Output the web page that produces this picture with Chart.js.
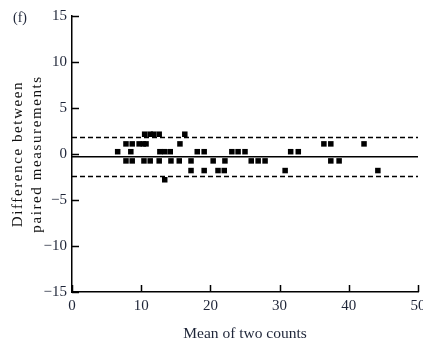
<!DOCTYPE html>
<html>
<head>
<meta charset="utf-8">
<script src="https://cdn.jsdelivr.net/npm/chart.js@4/dist/chart.umd.min.js"></script>
<style>
  html, body { margin: 0; padding: 0; background: #fff; overflow: hidden; }
</style>
</head>
<body>
<canvas id="chart" width="440" height="344"></canvas>
<script>
// Bland-Altman style plot: mean of two counts vs difference
var meanCounts = [
    10.5, 11.3, 11.8, 12.6, 16.3,
    7.8, 8.7, 9.7, 10.3, 10.7, 15.6, 36.4, 37.4, 42.2,
    6.6, 8.5, 12.7, 13.4, 14.2, 18.1, 19.1, 23.1, 24.0, 25.0, 31.6, 32.7,
    7.8, 8.7, 10.4, 11.3, 12.6, 14.3, 15.5, 17.2, 20.4, 22.1, 25.9, 26.9, 27.9, 37.4, 38.6,
    17.2, 19.1, 21.1, 22.0, 30.8, 44.2,
    13.4
];
var differences = [
    2.15, 2.15, 2.15, 2.15, 2.15,
    1.1, 1.1, 1.1, 1.1, 1.1, 1.1, 1.1, 1.1, 1.1,
    0.25, 0.25, 0.25, 0.25, 0.25, 0.25, 0.25, 0.25, 0.25, 0.25, 0.25, 0.25,
    -0.75, -0.75, -0.75, -0.75, -0.75, -0.75, -0.75, -0.75, -0.75, -0.75, -0.75, -0.75, -0.75, -0.75, -0.75,
    -1.8, -1.8, -1.8, -1.8, -1.8, -1.8,
    -2.8
];
var meanDiff = -0.3;       // bias line
var upperLimit = 1.8;      // upper limit of agreement
var lowerLimit = -2.45;    // lower limit of agreement
var xTicks = [0, 10, 20, 30, 40, 50];
var yTicks = [-15, -10, -5, 0, 5, 10, 15];

var serif = '"Liberation Serif", "DejaVu Serif", serif';
var inkColor = '#1e2538';

var points = meanCounts.map(function(m, i) { return {x: m, y: differences[i]}; });
var xMin = xTicks[0], xMax = xTicks[xTicks.length - 1];

function hLine(val) {
    return [{x: xMin, y: val}, {x: xMax, y: val}];
}

// draws the tick marks on the inner side of the axes, plus the panel letter
var innerTicks = {
    id: 'innerTicks',
    afterDraw: function(chart) {
        var ctx = chart.ctx;
        var xs = chart.scales.x, ys = chart.scales.y;
        var area = chart.chartArea;
        ctx.save();
        ctx.strokeStyle = '#000';
        ctx.lineWidth = 1.5;
        ctx.beginPath();
        xTicks.forEach(function(t) {
            var px = Math.round(xs.getPixelForValue(t)) + 0.5;
            ctx.moveTo(px, area.bottom);
            ctx.lineTo(px, area.bottom - 7);
        });
        yTicks.forEach(function(t) {
            var py = Math.round(ys.getPixelForValue(t)) + 0.5;
            ctx.moveTo(area.left, py);
            ctx.lineTo(area.left + 7, py);
        });
        ctx.stroke();
        ctx.fillStyle = inkColor;
        ctx.font = '14px ' + serif;
        ctx.textBaseline = 'middle';
        ctx.fillText('(f)', 13, 18);
        ctx.restore();
    }
};

var ctx = document.getElementById('chart').getContext('2d');
var chart = new Chart(ctx, {
    type: 'scatter',
    data: {
        datasets: [
            {
                label: 'upper',
                type: 'line',
                data: hLine(upperLimit),
                borderColor: '#000',
                borderWidth: 1.5,
                borderDash: [5, 3],
                pointRadius: 0
            },
            {
                label: 'mean',
                type: 'line',
                data: hLine(meanDiff),
                borderColor: '#000',
                borderWidth: 1.6,
                pointRadius: 0
            },
            {
                label: 'lower',
                type: 'line',
                data: hLine(lowerLimit),
                borderColor: '#000',
                borderWidth: 1.5,
                borderDash: [5, 3],
                pointRadius: 0
            },
            {
                label: 'pairs',
                data: points,
                pointStyle: 'rect',
                pointRadius: 3.9,
                pointHoverRadius: 3.9,
                backgroundColor: '#000',
                borderColor: '#000',
                borderWidth: 0
            }
        ]
    },
    options: {
        responsive: false,
        animation: false,
        events: [],
        layout: {padding: {left: 0, top: 16, right: 22, bottom: 0}},
        plugins: {
            legend: {display: false},
            tooltip: {enabled: false}
        },
        scales: {
            x: {
                type: 'linear',
                min: xMin,
                max: xMax,
                afterBuildTicks: function(scale) {
                    scale.ticks = xTicks.map(function(v) { return {value: v}; });
                },
                afterFit: function(scale) { scale.height = 52; },
                grid: {display: false, drawTicks: false},
                border: {display: true, color: '#000', width: 1.5},
                ticks: {
                    padding: 5,
                    color: inkColor,
                    font: {family: serif, size: 15}
                },
                title: {
                    display: true,
                    text: 'Mean of two counts',
                    color: inkColor,
                    font: {family: serif, size: 15.5},
                    padding: {top: 0, bottom: 1}
                }
            },
            y: {
                type: 'linear',
                min: yTicks[0],
                max: yTicks[yTicks.length - 1],
                afterBuildTicks: function(scale) {
                    scale.ticks = yTicks.map(function(v) { return {value: v}; });
                },
                afterFit: function(scale) { scale.width = 72; },
                grid: {display: false, drawTicks: false},
                border: {display: true, color: '#000', width: 1.5},
                ticks: {
                    padding: 5,
                    color: inkColor,
                    font: {family: serif, size: 15},
                    callback: function(v) { return String(v).replace('-', '\u2212'); }
                },
                title: {
                    display: true,
                    text: ['Difference between', 'paired measurements'],
                    color: '#111',
                    font: {family: serif, size: 15, lineHeight: 1.25},
                    padding: {top: 9, bottom: 0}
                }
            }
        }
    },
    plugins: [innerTicks]
});

// the y title in the source is set with wide letter spacing
var yScale = chart.scales.y;
var origDrawTitle = yScale.drawTitle;
yScale.drawTitle = function() {
    this.ctx.save();
    this.ctx.letterSpacing = '1.6px';
    origDrawTitle.apply(this, arguments);
    this.ctx.restore();
};
chart.draw();
</script>
</body>
</html>
